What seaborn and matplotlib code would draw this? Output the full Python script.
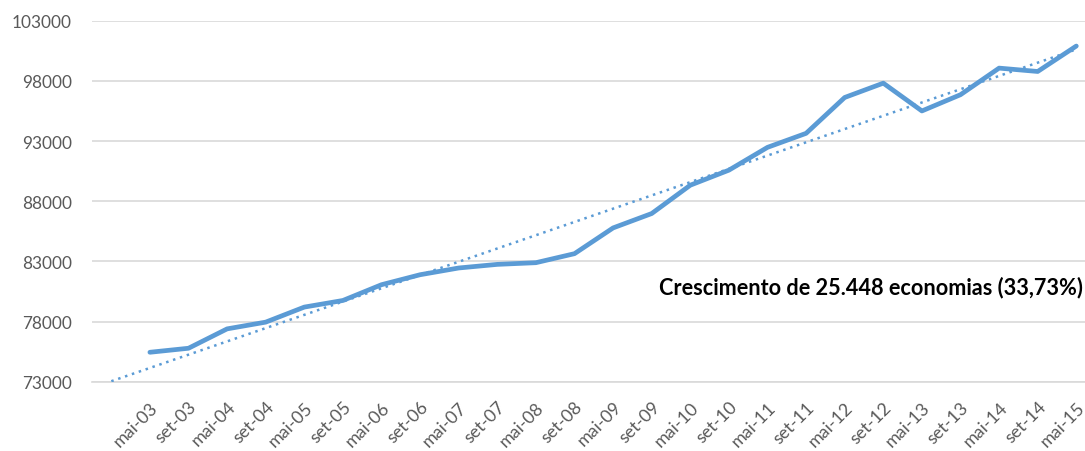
import numpy as np
import pandas as pd
import seaborn as sns
import matplotlib.pyplot as plt
import matplotlib.transforms as mtransforms
from matplotlib.ticker import FixedLocator

# Category labels (May and September of each year)
labels = ["mai-03", "set-03", "mai-04", "set-04", "mai-05", "set-05", "mai-06",
          "set-06", "mai-07", "set-07", "mai-08", "set-08", "mai-09", "set-09",
          "mai-10", "set-10", "mai-11", "set-11", "mai-12", "set-12", "mai-13",
          "set-13", "mai-14", "set-14", "mai-15"]

# Number of economias per period
economias = [75446, 75780, 77390, 77950, 79200, 79750, 81060, 81890, 82450,
             82750, 82890, 83640, 85780, 86975, 89330, 90580, 92475, 93640,
             96620, 97810, 95500, 96850, 99060, 98780, 100894]

yticks = [73000, 78000, 83000, 88000, 93000, 98000, 103000]

annotation = "Crescimento de 25.448 economias (33,73%)"

BLUE = "#5B9BD5"
GRID = "#D9D9D9"
TICK_TXT = "#595959"

sns.set_theme(style="white")
plt.rcParams["font.family"] = ["Lato", "DejaVu Sans"]

pos = np.arange(1, len(economias) + 1)
df = pd.DataFrame({"pos": pos, "economias": economias})

# Linear trend, extended one period backwards
coef = np.polyfit(pos, economias, 1)
trend_x = np.arange(0, len(economias) + 1)
trend = pd.DataFrame({"pos": trend_x, "valor": np.polyval(coef, trend_x)})

W, H = 1085, 452
fig = plt.figure(figsize=(W / 100, H / 100), dpi=100)
left_px, right_px = 92, 1095.6
top_px, bottom_px = 21.7, 382.7
ax = fig.add_axes([left_px / W, 1 - bottom_px / H,
                   (right_px - left_px) / W, (bottom_px - top_px) / H])

sns.lineplot(data=trend, x="pos", y="valor", ax=ax, color=BLUE,
             linewidth=1.8, linestyle=(0, (1, 1.9)), zorder=3)
sns.lineplot(data=df, x="pos", y="economias", ax=ax, color=BLUE,
             linewidth=3.4, zorder=4, solid_joinstyle="round",
             solid_capstyle="round")

ax.set_xlim(-0.5, len(economias) + 0.5)
ax.set_ylim(73000, 103000)
ax.set_yticks(yticks)
ax.set_yticklabels([str(v) for v in yticks])
ax.yaxis.grid(True, color=GRID, linewidth=1.2)
ax.set_axisbelow(True)

ax.set_xticks(pos)
ax.set_xticklabels(labels, rotation=45, ha="right", va="top",
                   rotation_mode="anchor")
shift = mtransforms.ScaledTranslation(-3 / 100, 0, fig.dpi_scale_trans)
for lbl in ax.get_xticklabels():
    lbl.set_transform(lbl.get_transform() + shift)
ax.xaxis.set_minor_locator(FixedLocator(np.arange(-0.5, len(economias) + 1, 1)))
ax.tick_params(axis="x", which="major", length=0, pad=12, labelsize=12.8,
               labelcolor=TICK_TXT)
ax.tick_params(axis="x", which="minor", length=3, width=1.2, color=GRID,
               direction="out")
ax.tick_params(axis="y", length=0, pad=14.5, labelsize=12.4, labelcolor=TICK_TXT)

ax.set_xlabel("")
ax.set_ylabel("")
for side in ["top", "right", "left"]:
    ax.spines[side].set_visible(False)
ax.spines["bottom"].set_color(GRID)
ax.spines["bottom"].set_linewidth(1.2)

fig.text(1083 / W, 1 - 288 / H, annotation, ha="right", va="center",
         fontsize=15.6, fontweight="bold", color="black")

fig.savefig("out.png", dpi=100)
